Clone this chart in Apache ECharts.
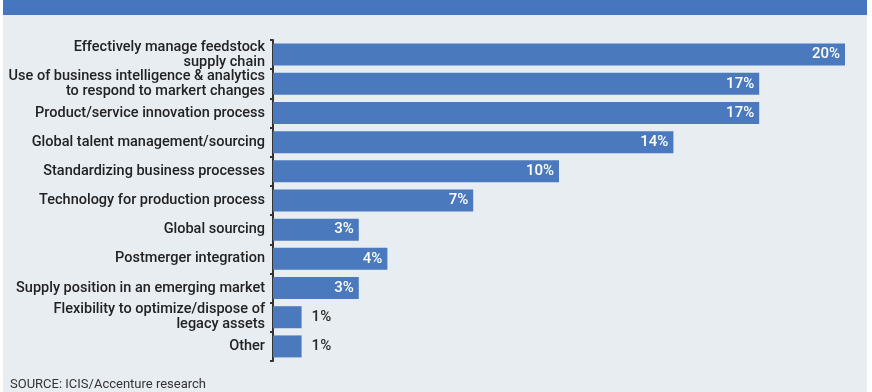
<!DOCTYPE html>
<html>
<head>
<meta charset="utf-8">
<script src="https://cdn.jsdelivr.net/npm/echarts@6/dist/echarts.min.js"></script>
<style>
  html, body { margin: 0; padding: 0; background: #ffffff; }
  #chart { width: 872px; height: 392px; }
</style>
</head>
<body>
<div id="chart"></div>
<script>
// Priorities reported by respondents (share of answers, %)
const categories = [
  'Effectively manage feedstock\nsupply chain',
  'Use of business intelligence & analytics\nto respond to markert changes',
  'Product/service innovation process',
  'Global talent management/sourcing',
  'Standardizing business processes',
  'Technology for production process',
  'Global sourcing',
  'Postmerger integration',
  'Supply position in an emerging market',
  'Flexibility to optimize/dispose of\nlegacy assets',
  'Other'
];
const values = [20, 17, 17, 14, 10, 7, 3, 4, 3, 1, 1];
const sourceNote = 'SOURCE: ICIS/Accenture research';

const BAR = '#4a7abd';
const FONT = 'Roboto, "Liberation Sans", sans-serif';

const chart = echarts.init(document.getElementById('chart'), null, { renderer: 'canvas' });

// Larger bars carry their value inside, the smallest ones just past the end
const seriesData = values.map(function (v) {
  const inside = v >= 3;
  return {
    value: v,
    label: inside
      ? { position: 'insideRight', color: '#ffffff' }
      : { position: 'right', color: '#2a2a2a', distance: 10 }
  };
});

chart.setOption({
  animation: false,
  backgroundColor: '#ffffff',
  graphic: [
    { type: 'rect', z: -10, shape: { x: 3, y: 0, width: 864, height: 392 }, style: { fill: '#e8edf2' } },
    { type: 'rect', z: -9, shape: { x: 3, y: 0, width: 864, height: 15 }, style: { fill: '#4677be' } },
    {
      type: 'text', left: 10, top: 378,
      style: { text: sourceNote, fill: '#333333', font: '13px ' + FONT }
    }
  ],
  grid: { left: 273, right: 27, top: 40, bottom: 31 },
  xAxis: {
    type: 'value', min: 0, max: 20,
    show: false
  },
  yAxis: {
    type: 'category',
    inverse: true,
    data: categories,
    axisLine: { show: true, lineStyle: { color: '#333333', width: 2 } },
    axisTick: { show: true, length: 3, lineStyle: { color: '#333333', width: 2 } },
    axisLabel: {
      interval: 0,
      margin: 8,
      color: '#222222',
      fontFamily: FONT,
      fontSize: 14.5,
      fontWeight: 500,
      lineHeight: 15,
      align: 'right'
    }
  },
  series: [{
    type: 'bar',
    data: seriesData,
    barWidth: 22,
    itemStyle: { color: BAR },
    label: {
      show: true,
      formatter: '{c}%',
      fontFamily: FONT,
      fontSize: 15,
      fontWeight: 500
    }
  }]
});
</script>
</body>
</html>
